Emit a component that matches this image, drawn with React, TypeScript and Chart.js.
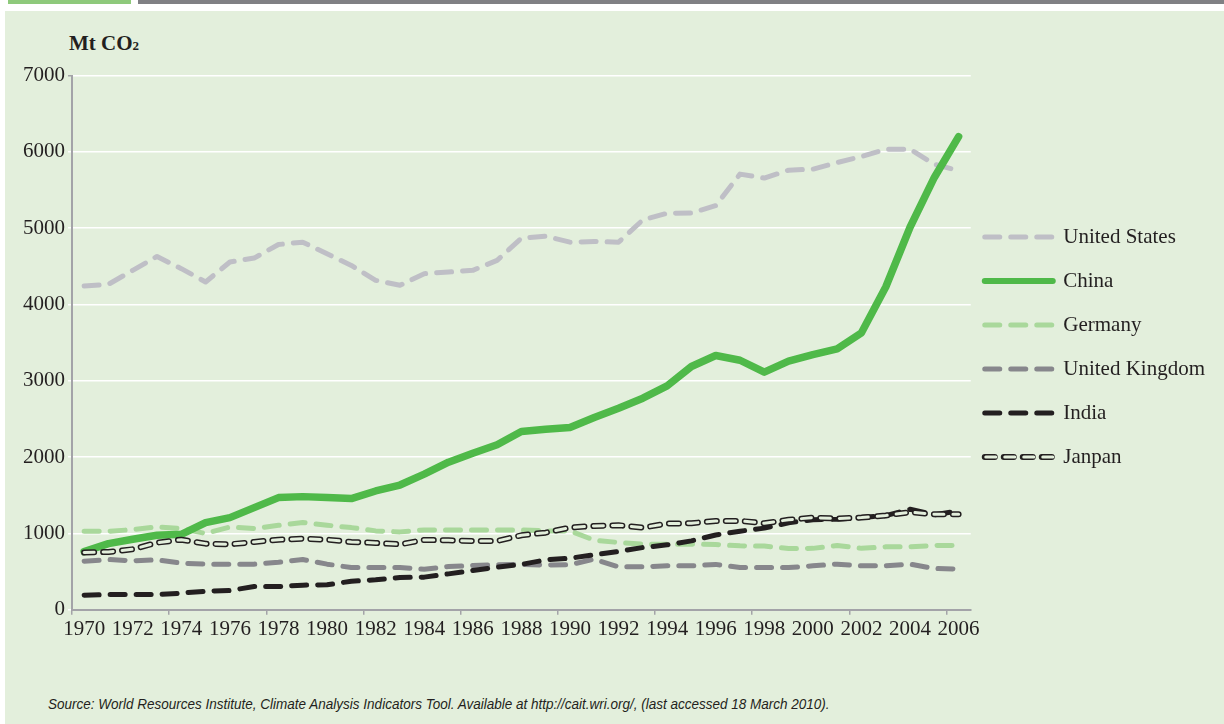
import React, { useEffect, useRef } from "react";
import { Chart, registerables } from "chart.js";
Chart.register(...registerables);

const years = [
  "1970", "1971", "1972", "1973", "1974", "1975", "1976", "1977", "1978", "1979",
  "1980", "1981", "1982", "1983", "1984", "1985", "1986", "1987", "1988", "1989",
  "1990", "1991", "1992", "1993", "1994", "1995", "1996", "1997", "1998", "1999",
  "2000", "2001", "2002", "2003", "2004", "2005", "2006",
];

const unitedStates = [
  4243, 4265, 4448, 4630, 4470, 4296, 4557, 4609, 4787, 4817,
  4665, 4513, 4317, 4252, 4404, 4426, 4448, 4578, 4870, 4896,
  4817, 4826, 4817, 5109, 5196, 5200, 5296, 5709, 5657, 5761,
  5774, 5861, 5939, 6035, 6035, 5839, 5752,
];

const china = [
  763, 867, 924, 976, 989, 1143, 1208, 1339, 1470, 1483,
  1470, 1457, 1557, 1635, 1777, 1934, 2052, 2162, 2336, 2367,
  2389, 2520, 2642, 2773, 2934, 3188, 3332, 3270, 3114, 3258,
  3345, 3420, 3630, 4230, 5013, 5665, 6200,
];

const germany = [
  1029, 1029, 1051, 1086, 1064, 1000, 1086, 1064, 1108, 1143,
  1108, 1077, 1034, 1021, 1047, 1047, 1047, 1047, 1047, 1034,
  1034, 912, 882, 860, 860, 860, 855, 838, 835, 803,
  805, 842, 805, 825, 825, 842, 845,
];

const unitedKingdom = [
  637, 659, 642, 655, 611, 598, 598, 598, 624, 659,
  598, 554, 554, 554, 532, 567, 580, 589, 595, 585,
  590, 663, 563, 563, 576, 576, 595, 554, 554, 554,
  576, 598, 576, 576, 598, 541, 532,
];

const india = [
  192, 200, 200, 200, 218, 244, 253, 305, 305, 323,
  327, 375, 393, 423, 428, 471, 515, 559, 595, 654,
  676, 720, 764, 816, 851, 903, 980, 1030, 1070, 1140,
  1180, 1186, 1208, 1235, 1317, 1245, 1295,
];

const japan = [
  750, 758, 793, 880, 919, 867, 858, 889, 919, 932,
  919, 889, 876, 858, 915, 910, 902, 902, 976, 1011,
  1077, 1099, 1108, 1077, 1130, 1134, 1165, 1165, 1134, 1180,
  1208, 1195, 1208, 1235, 1280, 1252, 1252,
];

const seriesNames = ["United States", "China", "Germany", "United Kingdom", "India", "Janpan"];
const yTickLabels = ["0", "1000", "2000", "3000", "4000", "5000", "6000", "7000"];

const BG = "#e3efdc";
const INK = "#231f20";
const AXIS = "#a3a3a8";
const FONT = "'Liberation Serif', 'Times New Roman', serif";

export default function App() {
  const ref = useRef<HTMLCanvasElement | null>(null);

  useEffect(() => {
    const canvas = ref.current;
    if (!canvas) return;
    const dash = [15, 11];
    const jDash = [10, 9];

    const legendTweaks = {
      id: "legendTweaks",
      afterLayout(chart: any) {
        const lg = chart.legend;
        if (lg) {
          lg.top -= 7;
          lg.bottom -= 7;
        }
      },
      afterDraw(chart: any) {
        const lg = chart.legend;
        if (!lg || !lg.legendItems) return;
        const idx = lg.legendItems.findIndex((it: any) => it.datasetIndex === 5);
        const hb = lg.legendHitBoxes && lg.legendHitBoxes[idx];
        if (!hb) return;
        const ctx = chart.ctx;
        const cx = hb.left + 34;
        const cy = hb.top + 10.5;
        ctx.save();
        ctx.strokeStyle = BG;
        ctx.lineWidth = 3;
        ctx.lineCap = "round";
        ctx.setLineDash(jDash);
        ctx.beginPath();
        ctx.moveTo(cx + 34, cy);
        ctx.lineTo(cx - 34, cy);
        ctx.stroke();
        ctx.restore();
      },
    };

    const base = { pointRadius: 0, pointHoverRadius: 0, tension: 0, fill: false, borderCapStyle: "round", borderJoinStyle: "round" };

    const chart = new Chart(canvas, {
      type: "line",
      data: {
        labels: years,
        datasets: [
          { ...base, label: seriesNames[0], data: unitedStates, borderColor: "#bfbfc6", backgroundColor: "#bfbfc6", borderWidth: 5, borderDash: dash, order: 6 },
          { ...base, label: seriesNames[1], data: china, borderColor: "#4fb949", backgroundColor: "#4fb949", borderWidth: 7.5, order: 3 },
          { ...base, label: seriesNames[2], data: germany, borderColor: "#a9d89b", backgroundColor: "#a9d89b", borderWidth: 5, borderDash: dash, order: 5 },
          { ...base, label: seriesNames[3], data: unitedKingdom, borderColor: "#87878c", backgroundColor: "#87878c", borderWidth: 5, borderDash: dash, order: 4 },
          { ...base, label: seriesNames[4], data: india, borderColor: INK, backgroundColor: INK, borderWidth: 5, borderDash: dash, order: 2 },
          { ...base, label: seriesNames[5], data: japan, borderColor: INK, backgroundColor: INK, borderWidth: 6, borderDash: jDash, order: 1 },
          { ...base, label: "japan-inner", data: japan, borderColor: BG, backgroundColor: BG, borderWidth: 3, borderDash: jDash, order: 0 },
        ] as any,
      },
      options: {
        animation: false,
        responsive: true,
        maintainAspectRatio: false,
        layout: { padding: { left: 20, top: 13, right: 9, bottom: 16 } },
        plugins: {
          tooltip: { enabled: false },
          title: { display: false },
          legend: {
            display: true,
            position: "right",
            align: "center",
            labels: {
              usePointStyle: true,
              pointStyle: "line",
              pointStyleWidth: 68,
              boxWidth: 68,
              padding: 14,
              color: INK,
              font: { family: FONT, size: 21, lineHeight: "30px" },
              generateLabels: (c: any) =>
                (Chart.defaults.plugins.legend.labels as any)
                  .generateLabels(c)
                  .filter((it: any) => it.datasetIndex !== 6)
                  .sort((a: any, b: any) => a.datasetIndex - b.datasetIndex)
                  .map((it: any) => {
                    const ds = c.data.datasets[it.datasetIndex];
                    return {
                      ...it,
                      text: [it.text],
                      strokeStyle: ds.borderColor,
                      fillStyle: ds.borderColor,
                      lineWidth: it.datasetIndex === 1 ? 6 : ds.borderWidth,
                      lineDash: ds.borderDash || [],
                      lineCap: "round",
                      pointStyle: "line",
                    };
                  }),
            },
          },
        },
        scales: {
          x: {
            type: "category",
            offset: true,
            grid: {
              offset: true,
              drawOnChartArea: false,
              drawTicks: true,
              tickLength: 5,
              lineWidth: 1.5,
              color: (c: any) => (typeof c.index === "number" && c.index % 4 === 0 ? AXIS : "rgba(0,0,0,0)"),
            },
            border: { display: true, color: AXIS, width: 2 },
            ticks: {
              autoSkip: false,
              maxRotation: 0,
              minRotation: 0,
              padding: 2,
              color: INK,
              font: { family: FONT, size: 21 },
              callback: (_v: any, i: number) => (i % 2 === 0 ? years[i] : ""),
            },
          },
          y: {
            min: 0,
            max: 7000,
            grid: {
              color: "#ffffff",
              lineWidth: 1.5,
              tickLength: 4,
              tickColor: (c: any) => (c.tick && c.tick.value === 7000 ? AXIS : "#ffffff"),
            },
            border: { display: true, color: AXIS, width: 2 },
            ticks: {
              stepSize: 1000,
              padding: 3,
              color: INK,
              font: { family: FONT, size: 21 },
              callback: (_v: any, i: number) => yTickLabels[i],
            },
          },
        },
      },
      plugins: [legendTweaks],
    } as any);

    return () => chart.destroy();
  }, []);

  return (
    <div style={{ position: "absolute", left: 0, top: 0, width: 1224, height: 724, background: "#ffffff", overflow: "hidden" }}>
      <div style={{ position: "absolute", left: 8, top: 0, width: 123, height: 4, background: "#8ec97b" }} />
      <div style={{ position: "absolute", left: 138, top: 0, width: 1086, height: 4, background: "#808084" }} />
      <div style={{ position: "absolute", left: 5, top: 11, width: 1219, height: 713, background: BG }} />
      <div style={{ position: "absolute", left: 69, top: 33, fontFamily: FONT, fontWeight: "bold", fontSize: 21, lineHeight: "21px", color: INK, whiteSpace: "nowrap" }}>
        Mt CO<span style={{ fontSize: 13 }}>2</span>
      </div>
      <div style={{ position: "absolute", left: 0, top: 60, width: 1224, height: 600 }}>
        <canvas ref={ref} />
      </div>
      <div style={{ position: "absolute", left: 48, top: 695, fontFamily: "'Liberation Sans', sans-serif", fontStyle: "italic", fontSize: 15, color: INK, whiteSpace: "nowrap", transform: "scaleX(0.9)", transformOrigin: "0 0" }}>
        Source: World Resources Institute, Climate Analysis Indicators Tool. Available at http://cait.wri.org/, (last accessed 18 March 2010).
      </div>
    </div>
  );
}
